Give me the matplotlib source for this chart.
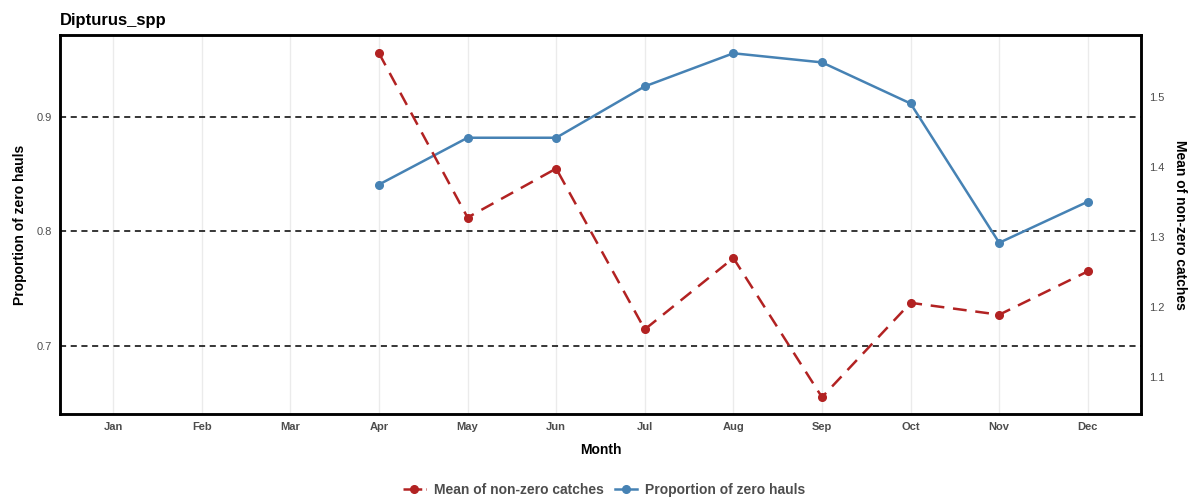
import matplotlib
matplotlib.use("Agg")
import matplotlib.pyplot as plt
from matplotlib.lines import Line2D

plt.rcParams["font.family"] = ["Liberation Sans", "DejaVu Sans"]

# data
months = ["Jan", "Feb", "Mar", "Apr", "May", "Jun", "Jul", "Aug", "Sep", "Oct", "Nov", "Dec"]
prop_months = [4, 5, 6, 7, 8, 9, 10, 11, 12]
prop_zero = [0.841, 0.882, 0.882, 0.927, 0.956, 0.948, 0.912, 0.790, 0.826]
mean_months = [4, 5, 6, 7, 8, 9, 10, 11, 12]
mean_nonzero = [1.563, 1.328, 1.398, 1.168, 1.270, 1.071, 1.206, 1.189, 1.251]

red = "#B22222"
blue = "#4682B4"
grey_txt = "#4d4d4d"

fig = plt.figure(figsize=(11.9, 5.0), dpi=100)
ax = fig.add_axes([0.0504, 0.172, 0.9084, 0.758])
ax2 = ax.twinx()

ax.set_xlim(0.4, 12.6)
ax.set_ylim(0.640, 0.972)
ax2.set_ylim(1.047, 1.589)

for m in range(1, 13):
    ax.axvline(m, color="#ebebeb", linewidth=1.0, zorder=0)
for yv in [0.7, 0.8, 0.9]:
    ax.axhline(yv, color="black", linewidth=1.1, linestyle=(0, (4, 3)), zorder=1)

ax.plot(prop_months, prop_zero, color=blue, linewidth=1.8, marker="o", markersize=5.5, zorder=3)
ax2.plot(mean_months, mean_nonzero, color=red, linewidth=1.8, linestyle=(0, (5.5, 3.5)),
         marker="o", markersize=5.5, zorder=3)

ax.set_xticks(range(1, 13))
ax.set_xticklabels(months, fontsize=8, fontweight="bold", color=grey_txt)
ax.set_yticks([0.7, 0.8, 0.9])
ax.set_yticklabels(["0.7", "0.8", "0.9"], fontsize=8, color=grey_txt)
ax2.set_yticks([1.1, 1.2, 1.3, 1.4, 1.5])
ax2.set_yticklabels(["1.1", "1.2", "1.3", "1.4", "1.5"], fontsize=8, color=grey_txt)
ax.tick_params(axis="both", length=0, pad=6)
ax2.tick_params(axis="y", length=0, pad=6)

for a in (ax, ax2):
    for s in a.spines.values():
        s.set_linewidth(1.8)
        s.set_color("black")

ax.set_xlabel("Month", fontsize=10, fontweight="bold", labelpad=8)
ax.set_ylabel("Proportion of zero hauls", fontsize=10, fontweight="bold", labelpad=7)
ax2.set_ylabel("Mean of non-zero catches", fontsize=10, fontweight="bold", rotation=270, labelpad=16)

fig.text(0.0504, 0.95, "Dipturus_spp", fontsize=12, fontweight="bold", ha="left", va="baseline")

handles = [
    Line2D([0], [0], color=red, linewidth=1.8, linestyle=(0, (3, 1.5)), marker="o", markersize=5.5),
    Line2D([0], [0], color=blue, linewidth=1.8, marker="o", markersize=5.5),
]
leg = fig.legend(handles, ["Mean of non-zero catches", "Proportion of zero hauls"],
                 loc="center", bbox_to_anchor=(0.508, 0.02), ncol=2, frameon=False,
                 handlelength=1.6, columnspacing=0.8, handletextpad=0.6,
                 prop={"size": 10, "weight": "bold"})
for t in leg.get_texts():
    t.set_color(grey_txt)

fig.savefig("out.png", dpi=100)
